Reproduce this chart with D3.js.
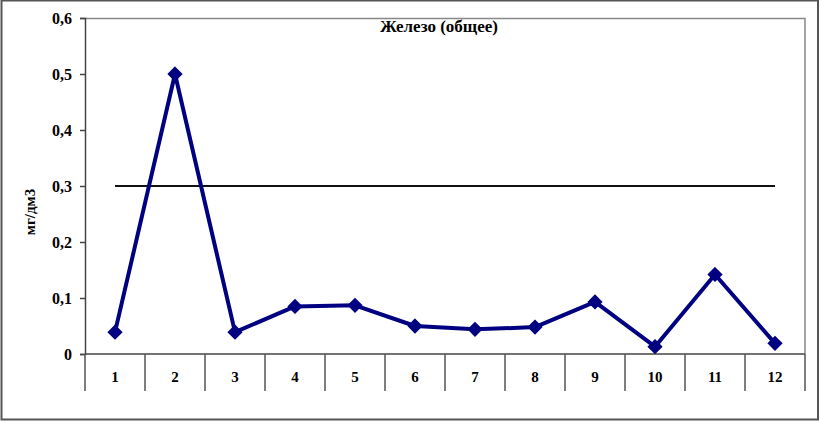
<!DOCTYPE html>
<html>
<head>
<meta charset="utf-8">
<title>Железо (общее)</title>
<script src="https://d3js.org/d3.v7.min.js"></script>
<style>
  body { margin: 0; background: #fff; }
  text { font-family: "Liberation Serif", "Times New Roman", serif; font-weight: bold; fill: #000; }
</style>
</head>
<body>
<div id="chart"></div>
<script>
  // data
  var categories = ["1", "2", "3", "4", "5", "6", "7", "8", "9", "10", "11", "12"];
  var values = [0.039, 0.5, 0.039, 0.085, 0.087, 0.05, 0.044, 0.048, 0.093, 0.013, 0.142, 0.019];
  var limitValue = 0.3;
  var yTicks = [0, 0.1, 0.2, 0.3, 0.4, 0.5, 0.6];
  var title = "Железо (общее)";
  var yLabel = "мг/дм3";

  var W = 820, H = 423;
  var margin = {top: 18, right: 15, bottom: 69, left: 85};
  var width = W - margin.left - margin.right,
      height = H - margin.top - margin.bottom;

  var svg = d3.select("#chart").append("svg")
    .attr("width", W)
    .attr("height", H);

  // outer frame
  svg.append("rect")
    .attr("x", 1.5).attr("y", 0.5)
    .attr("width", W - 3.5).attr("height", H - 4)
    .attr("fill", "none")
    .attr("stroke", "#555")
    .attr("stroke-width", 2);

  var g = svg.append("g")
    .attr("transform", "translate(" + margin.left + "," + margin.top + ")");

  var x = d3.scaleBand().domain(categories).range([0, width]);
  var y = d3.scaleLinear().domain([0, 0.6]).range([height, 0]);

  // plot area border (top + right)
  g.append("path")
    .attr("d", "M0,0.5H" + width + "V" + height)
    .attr("fill", "none")
    .attr("stroke", "#888")
    .attr("stroke-width", 1.5);

  // y axis
  var fmt = function(d) { return d === 0 ? "0" : d3.format(".1f")(d).replace(".", ","); };
  var yAxis = g.append("g")
    .call(d3.axisLeft(y).tickValues(yTicks).tickFormat(fmt).tickSize(5).tickPadding(8));
  yAxis.select(".domain").attr("stroke", "#444").attr("stroke-width", 1.5);
  yAxis.selectAll(".tick line").attr("stroke", "#444").attr("stroke-width", 1.5);
  yAxis.selectAll("text")
    .style("font-family", "Liberation Serif, serif")
    .style("font-weight", "bold")
    .style("font-size", "16px")
    .attr("dy", "0.32em");

  // x axis line and category separators
  g.append("line")
    .attr("x1", 0).attr("x2", width)
    .attr("y1", height).attr("y2", height)
    .attr("stroke", "#444").attr("stroke-width", 1.5);

  var seps = categories.map(function(c) { return x(c); }).concat([width]);
  g.selectAll(".sep")
    .data(seps)
    .enter().append("line")
    .attr("class", "sep")
    .attr("x1", function(d) { return d; }).attr("x2", function(d) { return d; })
    .attr("y1", height).attr("y2", height + 37)
    .attr("stroke", "#555").attr("stroke-width", 1.5);

  g.selectAll(".xlab")
    .data(categories)
    .enter().append("text")
    .attr("class", "xlab")
    .attr("x", function(d) { return x(d) + x.bandwidth() / 2; })
    .attr("y", height + 28)
    .attr("text-anchor", "middle")
    .style("font-size", "15px")
    .text(function(d) { return d; });

  // limit line
  g.append("line")
    .attr("x1", x(categories[0]) + x.bandwidth() / 2)
    .attr("x2", x(categories[categories.length - 1]) + x.bandwidth() / 2)
    .attr("y1", y(limitValue)).attr("y2", y(limitValue))
    .attr("stroke", "#111").attr("stroke-width", 2);

  // data line
  var line = d3.line()
    .x(function(d, i) { return x(categories[i]) + x.bandwidth() / 2; })
    .y(function(d) { return y(d); });

  g.append("path")
    .datum(values)
    .attr("d", line)
    .attr("fill", "none")
    .attr("stroke", "#000080")
    .attr("stroke-width", 4)
    .attr("stroke-linejoin", "round");

  g.selectAll(".pt")
    .data(values)
    .enter().append("path")
    .attr("class", "pt")
    .attr("d", d3.symbol().type(d3.symbolDiamond2).size(110))
    .attr("transform", function(d, i) {
      return "translate(" + (x(categories[i]) + x.bandwidth() / 2) + "," + y(d) + ")";
    })
    .attr("fill", "#000080")
    .attr("stroke", "#000080")
    .attr("stroke-width", 1.5);

  // title
  svg.append("text")
    .attr("x", 439).attr("y", 32)
    .attr("text-anchor", "middle")
    .style("font-size", "17px")
    .text(title);

  // y label
  svg.append("text")
    .attr("transform", "translate(35,212) rotate(-90)")
    .attr("text-anchor", "middle")
    .style("font-size", "15px")
    .text(yLabel);
</script>
</body>
</html>
